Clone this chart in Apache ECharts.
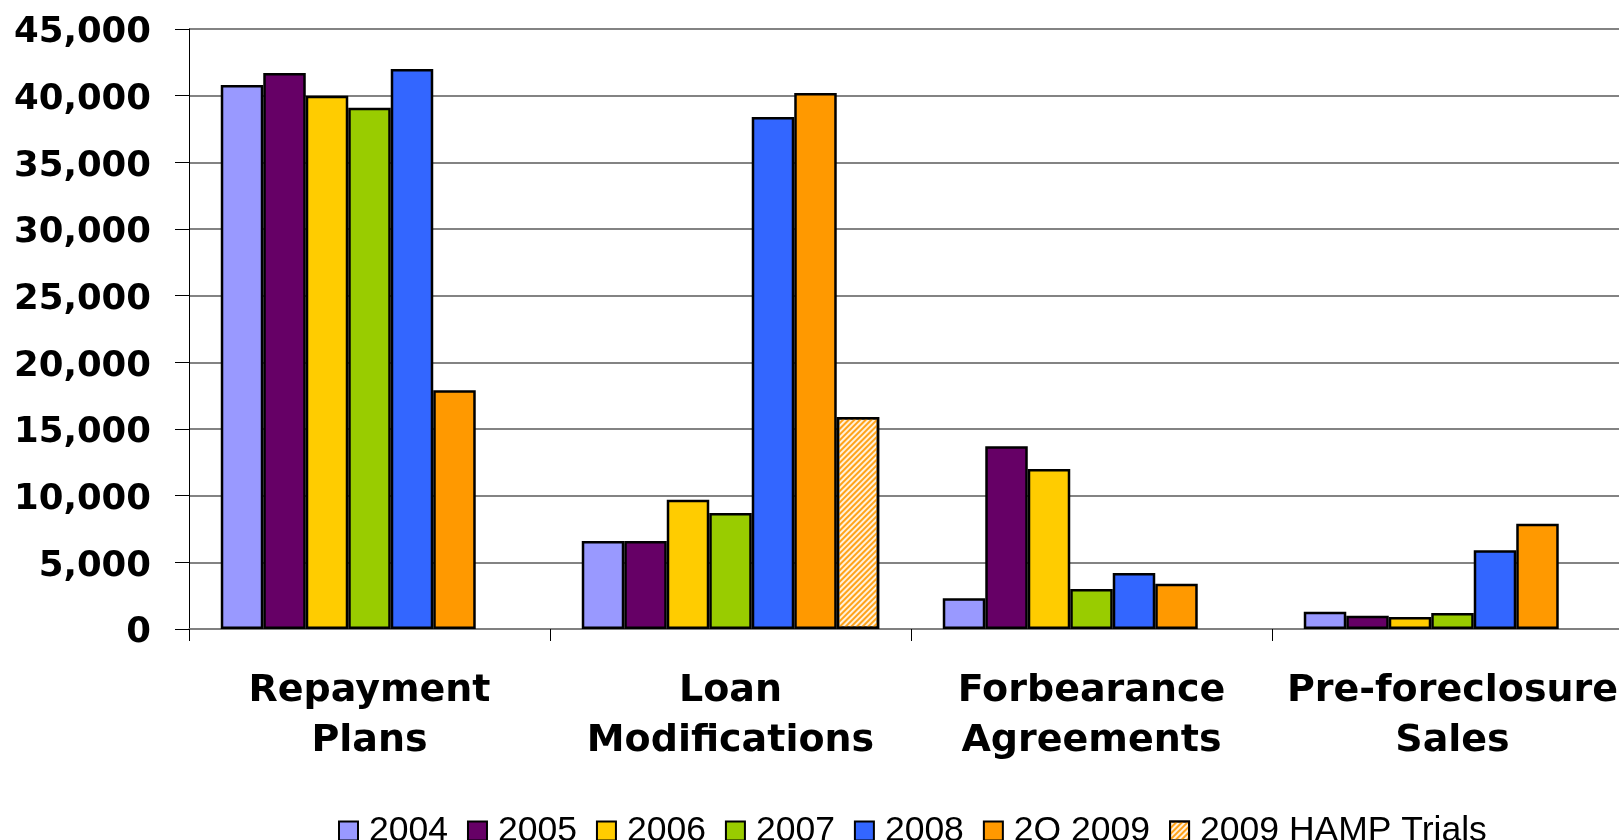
<!DOCTYPE html>
<html><head><meta charset="utf-8">
<script src="https://cdn.jsdelivr.net/npm/echarts@6/dist/echarts.min.js"></script>
<style>html,body{margin:0;padding:0;background:#fff}#c{width:1619px;height:840px}</style>
</head><body><div id="c"></div>
<script>
const categories = ['Repayment\nPlans', 'Loan\nModifications', 'Forbearance\nAgreements', 'Pre-foreclosure\nSales'];
const seriesNames = ['2004', '2005', '2006', '2007', '2008', '2Q 2009', '2009 HAMP Trials'];
const s2004 = [40800, 6600, 2300, 1300];
const s2005 = [41700, 6600, 13700, 1000];
const s2006 = [40000, 9700, 12000, 900];
const s2007 = [39100, 8700, 3000, 1200];
const s2008 = [42000, 38400, 4200, 5900];
const s2Q2009 = [17900, 40200, 3400, 7900];
const sHAMP = [null, 15900, null, null];
const yTicks = [0, 5000, 10000, 15000, 20000, 25000, 30000, 35000, 40000, 45000];

const colors = ['#9999FF', '#660066', '#FFCC00', '#99CC00', '#3366FF', '#FF9900', '#FFF1DC'];
const data = [s2004, s2005, s2006, s2007, s2008, s2Q2009, sHAMP];

const chart = echarts.init(document.getElementById('c'), null, {renderer: 'canvas'});
const series = seriesNames.map((n, i) => {
  const s = {
    name: n, type: 'bar', data: data[i],
    barGap: '0%', barCategoryGap: '17.6%',
    itemStyle: {color: colors[i], borderColor: '#000', borderWidth: 2.5},
    emphasis: {disabled: true}
  };
  if (i === 6) {
    s.itemStyle.decal = {
      symbol: 'rect', symbolSize: 1,
      dashArrayX: [1, 0], dashArrayY: [2, 2],
      rotation: -Math.PI / 4, color: '#FFA31A'
    };
  }
  return s;
});
chart.setOption({
  animation: false,
  backgroundColor: '#fff',
  grid: {left: 189, right: -14, top: 29, bottom: 211, containLabel: false, outerBoundsMode: 'none'},
  legend: {
    left: 338, top: 813, padding: 0, itemWidth: 19, itemHeight: 19, itemGap: 19, icon: 'rect',
    textStyle: {fontFamily: 'Liberation Sans, Arial', fontSize: 35.5, color: '#000', padding: [0, 0, 0, 6]},
    data: seriesNames
  },
  xAxis: {
    type: 'category', data: categories,
    axisLine: {lineStyle: {color: '#808080', width: 1.5}},
    axisTick: {show: true, length: 12, lineStyle: {color: '#000', width: 1}},
    axisLabel: {fontFamily: 'DejaVu Sans', fontWeight: 'bold', fontSize: 38, color: '#000', margin: 37, lineHeight: 50, interval: 0}
  },
  yAxis: {
    type: 'value', min: 0, max: 45000, interval: 5000,
    axisLine: {show: true, lineStyle: {color: '#000', width: 1}},
    axisTick: {show: true, length: 14, lineStyle: {color: '#000'}},
    splitLine: {lineStyle: {color: '#5a5a5a', width: 1.5}},
    axisLabel: {
      fontFamily: 'DejaVu Sans', fontWeight: 'bold', fontSize: 35.5, color: '#000', margin: 38,
      verticalAlign: 'top', lineHeight: 8,
      formatter: v => yTicks.includes(v) ? v.toLocaleString('en-US') : ''
    }
  },
  series: series
});
</script></body></html>
